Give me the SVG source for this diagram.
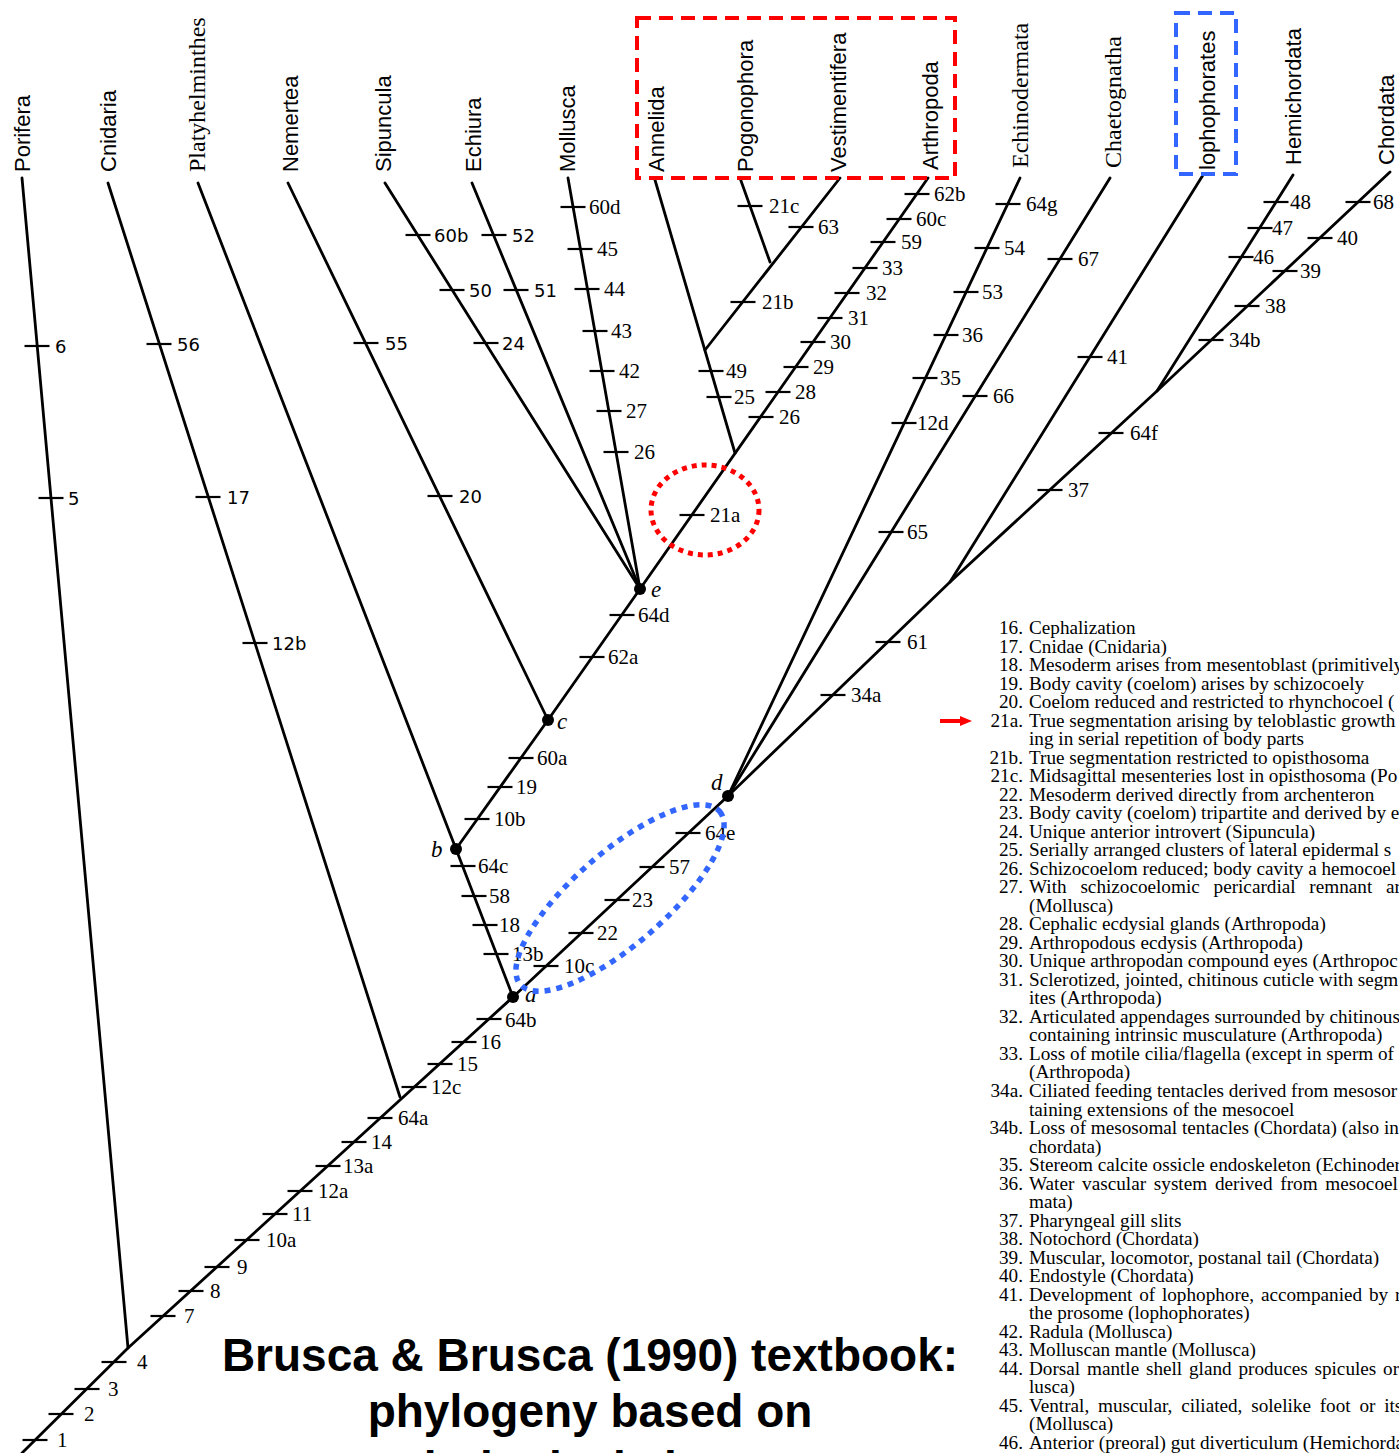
<svg xmlns="http://www.w3.org/2000/svg" width="1399" height="1453" viewBox="0 0 1399 1453">
<style>
.br{stroke:#000;stroke-width:2.8;fill:none;stroke-linecap:round;stroke-linejoin:round}
.tk{stroke:#000;stroke-width:2.2}
.tl{font-family:"Liberation Serif",serif;font-size:21px;fill:#000}
.ts{font-family:"DejaVu Sans",sans-serif;font-size:18px;fill:#000}
.tx{font-family:"Liberation Sans",sans-serif;font-size:22px;fill:#000}
.txs{font-family:"Liberation Serif",serif;font-size:24px;fill:#000}
.nl{font-family:"Liberation Serif",serif;font-style:italic;font-size:23px;fill:#000}
.key{font-family:"Liberation Serif",serif;font-size:19.2px;fill:#000}
.kn{text-anchor:end}
.title{font-family:"Liberation Sans",sans-serif;font-weight:bold;font-size:46px;text-anchor:middle;fill:#000}
.hlr{fill:none;stroke:#ff0000;stroke-width:4;stroke-dasharray:14 8}
.hlb{fill:none;stroke:#3366ff;stroke-width:4;stroke-dasharray:14 8}
.dotr{fill:none;stroke:#ff0000;stroke-width:5;stroke-dasharray:5 5}
.dotb{fill:none;stroke:#3366ff;stroke-width:5.5;stroke-dasharray:6 6}
</style>
<defs>
<path id="t" d="M-12.5 0h25" class="tk"/>
<marker id="ah" markerWidth="12" markerHeight="10" refX="2" refY="5" orient="auto" markerUnits="userSpaceOnUse"><path d="M0 0L12 5L0 10z" fill="#ff0000"/></marker>
</defs>
<rect width="1399" height="1453" fill="#fff"/>

<g id="connectors">
<polyline class="br" points="22,1453 128,1348 513,997 728,796 950,582 1157,391 1390,172"/>
<line class="br" x1="22" y1="178" x2="128" y2="1348"/>
<line class="br" x1="108" y1="183" x2="400" y2="1097"/>
<line class="br" x1="198" y1="183" x2="456" y2="849"/>
<line class="br" x1="288" y1="183" x2="548" y2="720"/>
<line class="br" x1="385" y1="183" x2="640" y2="589"/>
<line class="br" x1="472" y1="183" x2="640" y2="589"/>
<line class="br" x1="568" y1="178" x2="640" y2="589"/>
<polyline class="br" points="513,997 456,849 548,720 640,589 928,178"/>
<line class="br" x1="655" y1="180" x2="735" y2="453"/>
<line class="br" x1="705" y1="350" x2="840" y2="178"/>
<line class="br" x1="740" y1="178" x2="770" y2="262"/>
<line class="br" x1="728" y1="796" x2="1020" y2="178"/>
<line class="br" x1="728" y1="796" x2="1110" y2="178"/>
<line class="br" x1="950" y1="582" x2="1203" y2="175"/>
<line class="br" x1="1157" y1="391" x2="1293" y2="175"/>
</g>

<g id="nodes-internal">
<g id="node-a"><circle cx="513" cy="997" r="6"/><text class="nl" x="525" y="1002">a</text></g>
<g id="node-b"><circle cx="456" cy="849" r="6"/><text class="nl" x="431" y="857">b</text></g>
<g id="node-c"><circle cx="548" cy="720" r="6"/><text class="nl" x="557" y="729">c</text></g>
<g id="node-d"><circle cx="728" cy="796" r="6"/><text class="nl" x="711" y="790">d</text></g>
<g id="node-e"><circle cx="640" cy="589" r="6"/><text class="nl" x="651" y="597">e</text></g>
</g>

<g id="taxa">
<g id="taxon-porifera"><text class="tx" transform="translate(30,172) rotate(-90)">Porifera</text></g>
<g id="taxon-cnidaria"><text class="tx" transform="translate(116,172) rotate(-90)">Cnidaria</text></g>
<g id="taxon-platyhelminthes"><text class="txs" transform="translate(205,172) rotate(-90)">Platyhelminthes</text></g>
<g id="taxon-nemertea"><text class="tx" transform="translate(298,172) rotate(-90)">Nemertea</text></g>
<g id="taxon-sipuncula"><text class="tx" transform="translate(391,172) rotate(-90)">Sipuncula</text></g>
<g id="taxon-echiura"><text class="tx" transform="translate(481,172) rotate(-90)">Echiura</text></g>
<g id="taxon-mollusca"><text class="tx" transform="translate(575,172) rotate(-90)">Mollusca</text></g>
<g id="taxon-annelida"><text class="tx" transform="translate(664,172) rotate(-90)">Annelida</text></g>
<g id="taxon-pogonophora"><text class="tx" transform="translate(753,172) rotate(-90)">Pogonophora</text></g>
<g id="taxon-vestimentifera"><text class="tx" transform="translate(846,172) rotate(-90)">Vestimentifera</text></g>
<g id="taxon-arthropoda"><text class="tx" transform="translate(938,170) rotate(-90)">Arthropoda</text></g>
<g id="taxon-echinodermata"><text class="txs" transform="translate(1028,168) rotate(-90)">Echinodermata</text></g>
<g id="taxon-chaetognatha"><text class="txs" transform="translate(1121,168) rotate(-90)">Chaetognatha</text></g>
<g id="taxon-lophophorates"><text class="tx" transform="translate(1215,170) rotate(-90)">lophophorates</text></g>
<g id="taxon-hemichordata"><text class="tx" transform="translate(1301,165) rotate(-90)">Hemichordata</text></g>
<g id="taxon-chordata"><text class="tx" transform="translate(1394,165) rotate(-90)">Chordata</text></g>
</g>

<g id="characters">
<use href="#t" x="37" y="346"/><text class="ts" x="55" y="353">6</text>
<use href="#t" x="51" y="498"/><text class="ts" x="68" y="505">5</text>
<use href="#t" x="159" y="344"/><text class="ts" x="177" y="351">56</text>
<use href="#t" x="208" y="497"/><text class="ts" x="227" y="504">17</text>
<use href="#t" x="255" y="643"/><text class="ts" x="272" y="650">12b</text>
<use href="#t" x="366" y="343"/><text class="ts" x="385" y="350">55</text>
<use href="#t" x="440" y="496"/><text class="ts" x="459" y="503">20</text>
<use href="#t" x="418" y="235"/><text class="ts" x="434" y="242">60b</text>
<use href="#t" x="452" y="290"/><text class="ts" x="469" y="297">50</text>
<use href="#t" x="486" y="343"/><text class="ts" x="502" y="350">24</text>
<use href="#t" x="494" y="235"/><text class="ts" x="512" y="242">52</text>
<use href="#t" x="516" y="290"/><text class="ts" x="534" y="297">51</text>

<use href="#t" x="573" y="207"/><text class="tl" x="589" y="214">60d</text>
<use href="#t" x="580" y="249"/><text class="tl" x="597" y="256">45</text>
<use href="#t" x="587" y="289"/><text class="tl" x="604" y="296">44</text>
<use href="#t" x="595" y="331"/><text class="tl" x="611" y="338">43</text>
<use href="#t" x="602" y="371"/><text class="tl" x="619" y="378">42</text>
<use href="#t" x="609" y="411"/><text class="tl" x="626" y="418">27</text>
<use href="#t" x="616" y="452"/><text class="tl" x="634" y="459">26</text>

<use href="#t" x="711" y="371"/><text class="tl" x="726" y="378">49</text>
<use href="#t" x="719" y="397"/><text class="tl" x="734" y="404">25</text>
<use href="#t" x="750" y="206"/><text class="tl" x="769" y="213">21c</text>
<use href="#t" x="743" y="302"/><text class="tl" x="762" y="309">21b</text>
<use href="#t" x="801" y="227"/><text class="tl" x="818" y="234">63</text>

<use href="#t" x="692" y="515"/><text class="tl" x="710" y="522">21a</text>
<use href="#t" x="761" y="417"/><text class="tl" x="779" y="424">26</text>
<use href="#t" x="778" y="392"/><text class="tl" x="795" y="399">28</text>
<use href="#t" x="796" y="367"/><text class="tl" x="813" y="374">29</text>
<use href="#t" x="813" y="342"/><text class="tl" x="830" y="349">30</text>
<use href="#t" x="830" y="318"/><text class="tl" x="848" y="325">31</text>
<use href="#t" x="847" y="293"/><text class="tl" x="866" y="300">32</text>
<use href="#t" x="865" y="268"/><text class="tl" x="882" y="275">33</text>
<use href="#t" x="883" y="242"/><text class="tl" x="901" y="249">59</text>
<use href="#t" x="899" y="219"/><text class="tl" x="916" y="226">60c</text>
<use href="#t" x="917" y="194"/><text class="tl" x="934" y="201">62b</text>

<use href="#t" x="1008" y="204"/><text class="tl" x="1026" y="211">64g</text>
<use href="#t" x="987" y="248"/><text class="tl" x="1004" y="255">54</text>
<use href="#t" x="966" y="292"/><text class="tl" x="982" y="299">53</text>
<use href="#t" x="946" y="335"/><text class="tl" x="962" y="342">36</text>
<use href="#t" x="925" y="378"/><text class="tl" x="940" y="385">35</text>
<use href="#t" x="904" y="423"/><text class="tl" x="917" y="430">12d</text>

<use href="#t" x="1060" y="259"/><text class="tl" x="1078" y="266">67</text>
<use href="#t" x="975" y="396"/><text class="tl" x="993" y="403">66</text>
<use href="#t" x="891" y="532"/><text class="tl" x="907" y="539">65</text>

<use href="#t" x="1090" y="357"/><text class="tl" x="1107" y="364">41</text>

<use href="#t" x="1241" y="257"/><text class="tl" x="1253" y="264">46</text>
<use href="#t" x="1260" y="228"/><text class="tl" x="1272" y="235">47</text>
<use href="#t" x="1276" y="202"/><text class="tl" x="1290" y="209">48</text>

<use href="#t" x="1211" y="340"/><text class="tl" x="1229" y="347">34b</text>
<use href="#t" x="1247" y="306"/><text class="tl" x="1265" y="313">38</text>
<use href="#t" x="1285" y="271"/><text class="tl" x="1300" y="278">39</text>
<use href="#t" x="1320" y="238"/><text class="tl" x="1337" y="245">40</text>
<use href="#t" x="1358" y="202"/><text class="tl" x="1373" y="209">68</text>

<use href="#t" x="1050" y="490"/><text class="tl" x="1068" y="497">37</text>
<use href="#t" x="1111" y="433"/><text class="tl" x="1130" y="440">64f</text>
<use href="#t" x="833" y="695"/><text class="tl" x="851" y="702">34a</text>
<use href="#t" x="888" y="642"/><text class="tl" x="907" y="649">61</text>

<use href="#t" x="546" y="966"/><text class="tl" x="564" y="973">10c</text>
<use href="#t" x="581" y="933"/><text class="tl" x="597" y="940">22</text>
<use href="#t" x="617" y="900"/><text class="tl" x="632" y="907">23</text>
<use href="#t" x="652" y="867"/><text class="tl" x="669" y="874">57</text>
<use href="#t" x="688" y="833"/><text class="tl" x="705" y="840">64e</text>

<use href="#t" x="489" y="1019"/><text class="tl" x="505" y="1027">64b</text>
<use href="#t" x="464" y="1042"/><text class="tl" x="480" y="1049">16</text>
<use href="#t" x="440" y="1064"/><text class="tl" x="457" y="1071">15</text>
<use href="#t" x="414" y="1087"/><text class="tl" x="431" y="1094">12c</text>
<use href="#t" x="380" y="1118"/><text class="tl" x="398" y="1125">64a</text>
<use href="#t" x="354" y="1142"/><text class="tl" x="371" y="1149">14</text>
<use href="#t" x="328" y="1166"/><text class="tl" x="343" y="1173">13a</text>
<use href="#t" x="300" y="1191"/><text class="tl" x="318" y="1198">12a</text>
<use href="#t" x="275" y="1214"/><text class="tl" x="292" y="1221">11</text>
<use href="#t" x="247" y="1240"/><text class="tl" x="266" y="1247">10a</text>
<use href="#t" x="217" y="1267"/><text class="tl" x="237" y="1274">9</text>
<use href="#t" x="191" y="1291"/><text class="tl" x="210" y="1298">8</text>
<use href="#t" x="163" y="1316"/><text class="tl" x="184" y="1323">7</text>
<use href="#t" x="114" y="1362"/><text class="tl" x="137" y="1369">4</text>
<use href="#t" x="87" y="1389"/><text class="tl" x="108" y="1396">3</text>
<use href="#t" x="61" y="1414"/><text class="tl" x="84" y="1421">2</text>
<use href="#t" x="35" y="1440"/><text class="tl" x="57" y="1447">1</text>

<use href="#t" x="463" y="866"/><text class="tl" x="478" y="873">64c</text>
<use href="#t" x="474" y="896"/><text class="tl" x="489" y="903">58</text>
<use href="#t" x="485" y="925"/><text class="tl" x="499" y="932">18</text>
<use href="#t" x="496" y="954"/><text class="tl" x="512" y="961">13b</text>
<use href="#t" x="477" y="819"/><text class="tl" x="494" y="826">10b</text>
<use href="#t" x="500" y="787"/><text class="tl" x="516" y="794">19</text>
<use href="#t" x="521" y="758"/><text class="tl" x="537" y="765">60a</text>
<use href="#t" x="592" y="657"/><text class="tl" x="608" y="664">62a</text>
<use href="#t" x="622" y="615"/><text class="tl" x="638" y="622">64d</text>
</g>

<g id="highlights">
<rect class="hlr" x="637" y="18" width="318" height="160"/>
<rect class="hlb" x="1176" y="13" width="60" height="161"/>
<ellipse class="dotr" cx="705" cy="510" rx="54" ry="45"/>
<ellipse class="dotb" cx="620" cy="898" rx="132" ry="46" transform="rotate(-41 620 898)"/>
<line x1="940" y1="721" x2="962" y2="721" stroke="#ff0000" stroke-width="4" marker-end="url(#ah)"/>
</g>

<g id="key" class="key">
<text class="kn" x="1023" y="634">16.</text><text x="1029" y="634">Cephalization</text>
<text class="kn" x="1023" y="652.5">17.</text><text x="1029" y="652.5">Cnidae (Cnidaria)</text>
<text class="kn" x="1023" y="671">18.</text><text x="1029" y="671">Mesoderm arises from mesentoblast (primitively</text>
<text class="kn" x="1023" y="689.6">19.</text><text x="1029" y="689.6">Body cavity (coelom) arises by schizocoely</text>
<text class="kn" x="1023" y="708.1">20.</text><text x="1029" y="708.1">Coelom reduced and restricted to rhynchocoel (</text>
<text class="kn" x="1023" y="726.6">21a.</text><text x="1029" y="726.6">True segmentation arising by teloblastic growth</text>
<text x="1029" y="745.1">ing in serial repetition of body parts</text>
<text class="kn" x="1023" y="763.6">21b.</text><text x="1029" y="763.6">True segmentation restricted to opisthosoma</text>
<text class="kn" x="1023" y="782.2">21c.</text><text x="1029" y="782.2">Midsagittal mesenteries lost in opisthosoma (Po</text>
<text class="kn" x="1023" y="800.7">22.</text><text x="1029" y="800.7">Mesoderm derived directly from archenteron</text>
<text class="kn" x="1023" y="819.2">23.</text><text x="1029" y="819.2">Body cavity (coelom) tripartite and derived by e</text>
<text class="kn" x="1023" y="837.7">24.</text><text x="1029" y="837.7">Unique anterior introvert (Sipuncula)</text>
<text class="kn" x="1023" y="856.2">25.</text><text x="1029" y="856.2">Serially arranged clusters of lateral epidermal s</text>
<text class="kn" x="1023" y="874.7">26.</text><text x="1029" y="874.7">Schizocoelom reduced; body cavity a hemocoel</text>
<text class="kn" x="1023" y="893.3">27.</text><text x="1029" y="893.3" word-spacing="9">With schizocoelomic pericardial remnant ar</text>
<text x="1029" y="911.8">(Mollusca)</text>
<text class="kn" x="1023" y="930.3">28.</text><text x="1029" y="930.3">Cephalic ecdysial glands (Arthropoda)</text>
<text class="kn" x="1023" y="948.8">29.</text><text x="1029" y="948.8">Arthropodous ecdysis (Arthropoda)</text>
<text class="kn" x="1023" y="967.3">30.</text><text x="1029" y="967.3">Unique arthropodan compound eyes (Arthropoc</text>
<text class="kn" x="1023" y="985.8">31.</text><text x="1029" y="985.8">Sclerotized, jointed, chitinous cuticle with segm</text>
<text x="1029" y="1004.4">ites (Arthropoda)</text>
<text class="kn" x="1023" y="1022.9">32.</text><text x="1029" y="1022.9">Articulated appendages surrounded by chitinous</text>
<text x="1029" y="1041.4">containing intrinsic musculature (Arthropoda)</text>
<text class="kn" x="1023" y="1059.9">33.</text><text x="1029" y="1059.9">Loss of motile cilia/flagella (except in sperm of so</text>
<text x="1029" y="1078.4">(Arthropoda)</text>
<text class="kn" x="1023" y="1097">34a.</text><text x="1029" y="1097">Ciliated feeding tentacles derived from mesosor</text>
<text x="1029" y="1115.5">taining extensions of the mesocoel</text>
<text class="kn" x="1023" y="1134">34b.</text><text x="1029" y="1134">Loss of mesosomal tentacles (Chordata) (also in s</text>
<text x="1029" y="1152.5">chordata)</text>
<text class="kn" x="1023" y="1171">35.</text><text x="1029" y="1171">Stereom calcite ossicle endoskeleton (Echinoder</text>
<text class="kn" x="1023" y="1189.5">36.</text><text x="1029" y="1189.5" word-spacing="3">Water vascular system derived from mesocoel (</text>
<text x="1029" y="1208.1">mata)</text>
<text class="kn" x="1023" y="1226.6">37.</text><text x="1029" y="1226.6">Pharyngeal gill slits</text>
<text class="kn" x="1023" y="1245.1">38.</text><text x="1029" y="1245.1">Notochord (Chordata)</text>
<text class="kn" x="1023" y="1263.6">39.</text><text x="1029" y="1263.6">Muscular, locomotor, postanal tail (Chordata)</text>
<text class="kn" x="1023" y="1282.1">40.</text><text x="1029" y="1282.1">Endostyle (Chordata)</text>
<text class="kn" x="1023" y="1300.7">41.</text><text x="1029" y="1300.7" word-spacing="2">Development of lophophore, accompanied by re</text>
<text x="1029" y="1319.2">the prosome (lophophorates)</text>
<text class="kn" x="1023" y="1337.7">42.</text><text x="1029" y="1337.7">Radula (Mollusca)</text>
<text class="kn" x="1023" y="1356.2">43.</text><text x="1029" y="1356.2">Molluscan mantle (Mollusca)</text>
<text class="kn" x="1023" y="1374.7">44.</text><text x="1029" y="1374.7" word-spacing="2">Dorsal mantle shell gland produces spicules or s</text>
<text x="1029" y="1393.3">lusca)</text>
<text class="kn" x="1023" y="1411.8">45.</text><text x="1029" y="1411.8" word-spacing="4">Ventral, muscular, ciliated, solelike foot or its</text>
<text x="1029" y="1430.3">(Mollusca)</text>
<text class="kn" x="1023" y="1448.8">46.</text><text x="1029" y="1448.8">Anterior (preoral) gut diverticulum (Hemichorda</text>
</g>

<g id="title">
<text class="title" x="590" y="1371">Brusca &amp; Brusca (1990) textbook:</text>
<text class="title" x="590" y="1427">phylogeny based on</text>
<text class="title" x="590" y="1484">morphological characters</text>
</g>
</svg>
